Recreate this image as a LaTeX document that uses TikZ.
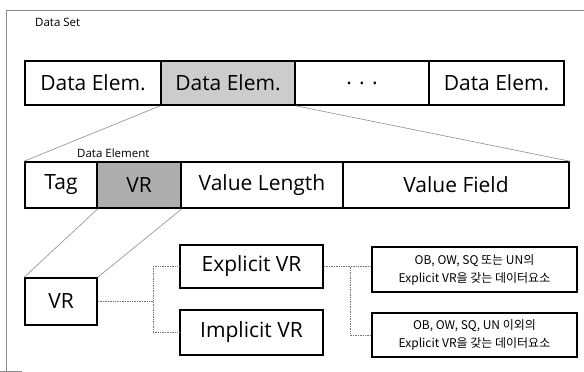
\documentclass[tikz,border=0pt]{standalone}
\usepackage{fontspec}
\setmainfont{Open Sans}
\newfontfamily\kr{Noto Sans CJK KR}
\begin{document}
\begin{tikzpicture}[x=1pt,y=-1pt,
  cell/.style={draw=black,line width=1.6pt,inner sep=0pt,font=\fontsize{21}{24}\selectfont},
  shade1/.style={fill=black!20},
  shade2/.style={fill=black!32},
  note/.style={draw=black,line width=1.6pt,inner sep=0pt,align=center,
    font=\kr\fontsize{12}{18}\selectfont},
  fan/.style={draw=black!45,line width=0.6pt},
  link/.style={draw=black!55,line width=0.7pt,densely dotted},
  lbl/.style={font=\fontsize{11.5}{13}\selectfont,anchor=base west,inner sep=0pt}]
\useasboundingbox (0,0) rectangle (584,372);
% outer frame
\draw[black!45,line width=0.6pt] (6,371) -- (6,10) -- (584,10);
\draw[black!45,line width=0.6pt] (0,371) -- (22,371);

% data set row
\node[lbl] (dslabel) at (35,26) {Data Set};
\node[cell,minimum width=136pt,minimum height=44pt] (de1) at (93,83) {Data Elem.};
\node[cell,shade1,minimum width=134pt,minimum height=44pt] (de2) at (228,83) {Data Elem.};
\node[cell,minimum width=134pt,minimum height=44pt] (de3) at (362,83) {. . .};
\node[cell,minimum width=135pt,minimum height=44pt] (de4) at (496.5,83) {Data Elem.};

% data element row
\node[lbl] (delabel) at (77,157) {Data Element};
\node[cell,minimum width=72pt,minimum height=46pt] (tag) at (61,185) {Tag};
\node[cell,shade2,minimum width=84pt,minimum height=46pt] (vr) at (139,185) {VR};
\node[cell,minimum width=162pt,minimum height=46pt] (vl) at (262,185) {Value Length};
\node[cell,minimum width=226pt,minimum height=46pt] (vf) at (456,185) {Value Field};

% VR breakdown
\node[cell,minimum width=72pt,minimum height=47pt] (vrb) at (61,301.5) {VR};
\node[cell,minimum width=143pt,minimum height=43pt] (expl) at (251.5,266.5) {Explicit VR};
\node[cell,minimum width=143pt,minimum height=45pt] (impl) at (251.5,332.5) {Implicit VR};
\node[note,minimum width=205pt,minimum height=45pt] (na) at (474.5,269.5)
  {OB, OW, SQ 또는 UN의\\Explicit VR을 갖는 데이터요소};
\node[note,minimum width=205pt,minimum height=44pt] (nb) at (474.5,335)
  {OB, OW, SQ, UN 이외의\\Explicit VR을 갖는 데이터요소};

% expansion lines
\draw[fan] (de2.south west) -- (tag.north west);
\draw[fan] (de2.south east) -- (vf.north east);
\draw[fan] (tag.south east) -- (vrb.north west);
\draw[fan] (vr.south east) -- (vrb.north east);

% tree connectors
\coordinate (j1) at (153,301.5);
\draw[link] (vrb.east) -- (j1);
\draw[link] (expl.west) -| (j1);
\draw[link] (impl.west) -| (j1);
\coordinate (j2) at (350,266.5);
\draw[link] (expl.east) -- (expl.east -| na.west);
\draw[link] (j2) |- (nb.west);
\end{tikzpicture}
\end{document}
